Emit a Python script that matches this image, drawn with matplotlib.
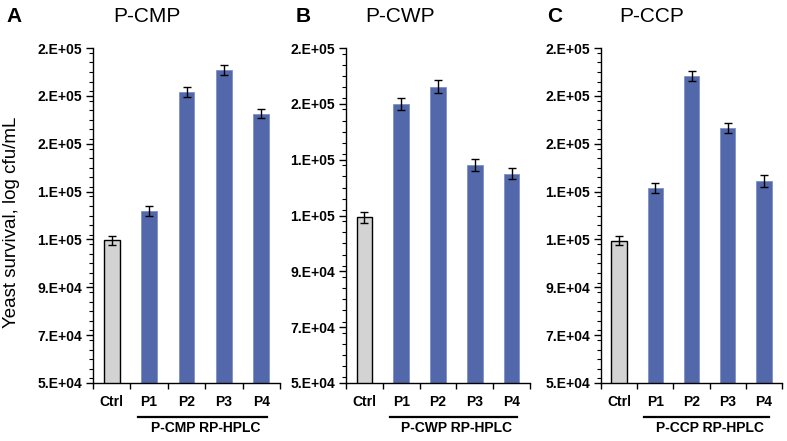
import matplotlib
matplotlib.use("Agg")
import matplotlib.pyplot as plt
from matplotlib.ticker import FixedLocator, MultipleLocator

plt.rcParams['font.family'] = ['Liberation Sans', 'DejaVu Sans']

categories = ["Ctrl", "P1", "P2", "P3", "P4"]

panel_letters = ["A", "B", "C"]
panel_titles = ["P-CMP", "P-CWP", "P-CCP"]
group_labels = ["P-CMP RP-HPLC", "P-CWP RP-HPLC", "P-CCP RP-HPLC"]

values_cmp = [109600, 122000, 171600, 180900, 162500]
errors_cmp = [1950, 2100, 1950, 2200, 1950]
values_cwp = [109300, 150000, 156200, 128200, 125000]
errors_cwp = [2000, 2250, 2200, 2100, 2100]
values_ccp = [109500, 131300, 178300, 156400, 134400]
errors_ccp = [1950, 2100, 2100, 2100, 2500]

yticks_ac = [50000, 70000, 90000, 110000, 130000, 150000, 170000, 190000]
ytick_labels_ac = ["5.E+04", "7.E+04", "9.E+04", "1.E+05", "1.E+05", "2.E+05", "2.E+05", "2.E+05"]
yticks_b = [50000, 70000, 90000, 110000, 130000, 150000, 170000]
ytick_labels_b = ["5.E+04", "7.E+04", "9.E+04", "1.E+05", "1.E+05", "2.E+05", "2.E+05"]

panels = [
    (values_cmp, errors_cmp, yticks_ac, ytick_labels_ac),
    (values_cwp, errors_cwp, yticks_b, ytick_labels_b),
    (values_ccp, errors_ccp, yticks_ac, ytick_labels_ac),
]

W, H = 787, 441
fig = plt.figure(figsize=(W / 100, H / 100), dpi=100)

# axes boxes in pixels: left, right, top, bottom
boxes = [(93, 280, 48, 383), (346, 530, 48, 383), (601, 782, 48, 383)]
letter_x = [14, 303, 555]
title_x = [147, 400, 652]

blue = "#5268AB"
grey = "#D3D3D3"

for i, (vals, errs, yt, ytl) in enumerate(panels):
    l, r, t, b = boxes[i]
    ax = fig.add_axes([l / W, 1 - b / H, (r - l) / W, (b - t) / H])
    x = list(range(len(categories)))
    colors = [grey] + [blue] * (len(categories) - 1)
    edges = ["black"] + ["#7D90C6"] * (len(categories) - 1)
    lws = [1.0] + [0.6] * (len(categories) - 1)
    ax.bar(x, vals, width=0.42, color=colors, edgecolor=edges, linewidth=lws, zorder=2)
    ax.errorbar(x, vals, yerr=errs, fmt="none", ecolor="black", elinewidth=1.0,
                capsize=2.6, capthick=1.0, zorder=3)
    ax.set_xlim(-0.5, len(categories) - 0.5)
    ax.set_ylim(yt[0], yt[-1])
    ax.yaxis.set_major_locator(FixedLocator(yt))
    ax.set_yticklabels(ytl, fontsize=10, fontweight="bold")
    ax.yaxis.set_minor_locator(MultipleLocator(4000))
    ax.tick_params(axis="y", which="major", direction="out", length=5, width=1.0, pad=3)
    ax.tick_params(axis="y", which="minor", direction="out", length=3, width=0.8)
    ax.xaxis.set_major_locator(FixedLocator([k - 0.5 for k in range(len(categories) + 1)]))
    ax.xaxis.set_minor_locator(FixedLocator(x))
    ax.set_xticklabels([])
    ax.set_xticklabels(categories, minor=True, fontsize=10, fontweight="bold")
    ax.tick_params(axis="x", which="major", direction="out", length=4, width=1.0)
    ax.tick_params(axis="x", which="minor", length=0, pad=9)
    for s in ["top", "right"]:
        ax.spines[s].set_visible(False)
    for s in ["left", "bottom"]:
        ax.spines[s].set_linewidth(1.0)
    # bracket under P1..P4
    ax.plot([0.7, 4.15], [-0.101, -0.101], color="black", lw=1.6,
            transform=ax.get_xaxis_transform(), clip_on=False)
    ax.text(2.5, -0.135, group_labels[i], transform=ax.get_xaxis_transform(),
            ha="center", va="center", fontsize=10, fontweight="bold")
    fig.text(letter_x[i] / W, 1 - 16 / H, panel_letters[i], ha="center", va="center",
             fontsize=15, fontweight="bold")
    fig.text(title_x[i] / W, 1 - 16 / H, panel_titles[i], ha="center", va="center",
             fontsize=15)

fig.text(12 / W, 1 - 222 / H, "Yeast survival, log cfu/mL", rotation=90,
         ha="center", va="center", fontsize=13.5)

fig.savefig("out.png", dpi=100)
